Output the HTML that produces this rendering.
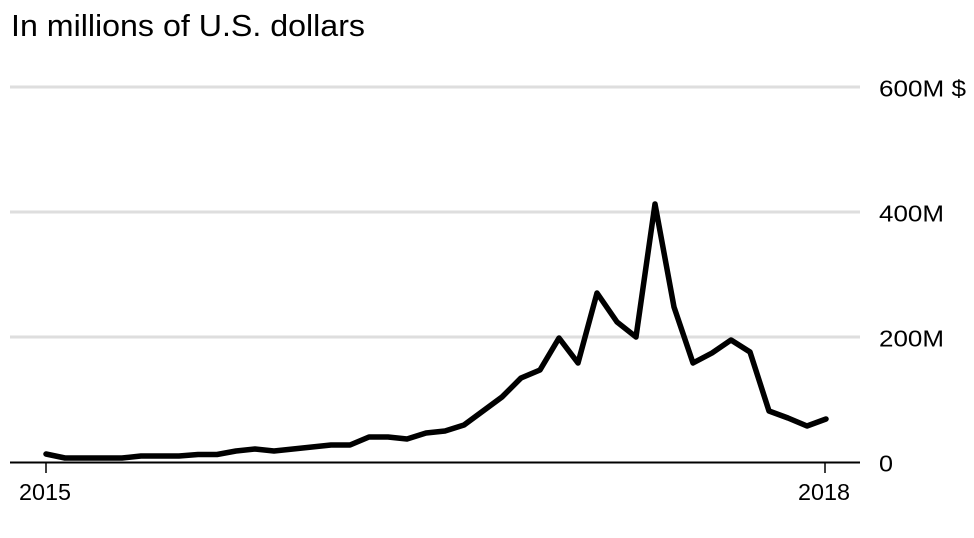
<!DOCTYPE html>
<html>
<head>
<meta charset="utf-8">
<style>
  html, body { margin: 0; padding: 0; background: #fff; }
  svg { display: block; }
  text { font-family: "Liberation Sans", Arial, sans-serif; fill: #000; }
</style>
</head>
<body>
<svg width="974" height="538" viewBox="0 0 974 538" xmlns="http://www.w3.org/2000/svg">
  <text x="11" y="36" font-size="31" textLength="354" lengthAdjust="spacingAndGlyphs">In millions of U.S. dollars</text>

  <!-- gridlines -->
  <line x1="10" y1="87" x2="860" y2="87" stroke="#dedede" stroke-width="3"/>
  <line x1="10" y1="212" x2="860" y2="212" stroke="#dedede" stroke-width="3"/>
  <line x1="10" y1="337" x2="860" y2="337" stroke="#dedede" stroke-width="3"/>

  <!-- y labels -->
  <text x="879" y="96.5" font-size="23" textLength="87" lengthAdjust="spacingAndGlyphs">600M $</text>
  <text x="879" y="221.5" font-size="23" textLength="65" lengthAdjust="spacingAndGlyphs">400M</text>
  <text x="879" y="346.5" font-size="23" textLength="65" lengthAdjust="spacingAndGlyphs">200M</text>
  <text x="879" y="471.5" font-size="23" textLength="14" lengthAdjust="spacingAndGlyphs">0</text>

  <!-- baseline -->
  <line x1="10" y1="462.5" x2="860" y2="462.5" stroke="#000" stroke-width="2"/>
  <line x1="46" y1="463" x2="46" y2="473" stroke="#000" stroke-width="1.5"/>
  <line x1="825" y1="463" x2="825" y2="473" stroke="#000" stroke-width="1.5"/>

  <text x="19" y="500" font-size="23" textLength="52" lengthAdjust="spacingAndGlyphs">2015</text>
  <text x="798" y="500" font-size="23" textLength="52" lengthAdjust="spacingAndGlyphs">2018</text>

  <!-- series -->
  <polyline fill="none" stroke="#000" stroke-width="5.5" stroke-linejoin="round" stroke-linecap="round"
    points="46,454 65,458 84,458 103,458 122,458 141,456 160,456 179,456 198,454.5 217,454.5 236,451 255,449 274,451 293,449 312,447 331,445 350,445 369,437 388,437 407,439 426,433 445,431 464,425 483,411 502,397 521,378 540,370 559,338 578,363 597,293 617,322 636,337 655,204 674,307 693,363 712,353 731,340 750,352 769,411 788,418 807,426 826,419"/>
</svg>
</body>
</html>
